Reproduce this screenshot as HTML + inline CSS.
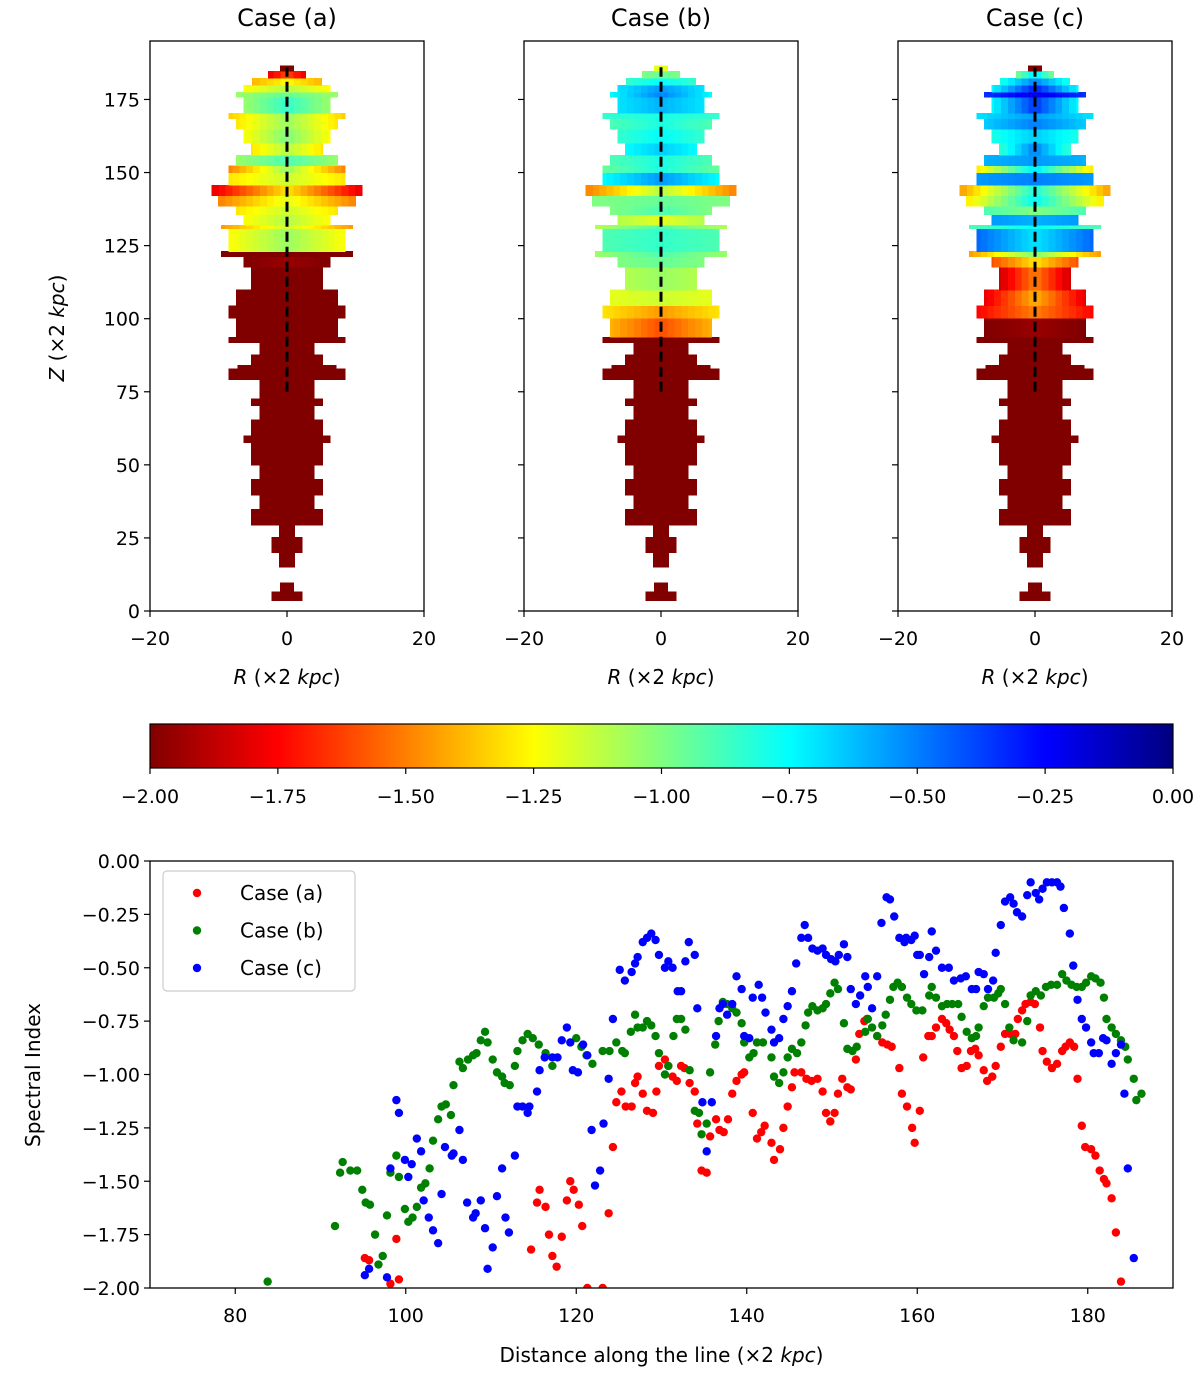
<!DOCTYPE html>
<html><head><meta charset="utf-8"><title>Spectral index jets</title>
<style>
html,body{margin:0;padding:0;background:#fff;}
svg{display:block;font-family:"DejaVu Sans","Liberation Sans",sans-serif;}
</style></head>
<body>
<svg id="fig" xmlns="http://www.w3.org/2000/svg" width="1200" height="1376" viewBox="0 0 1200 1376">
<defs>
<linearGradient id="jetgrad" x1="0" x2="1" y1="0" y2="0">
<stop offset="0" stop-color="#800000"/><stop offset="0.125" stop-color="#ff0000"/><stop offset="0.375" stop-color="#ffff00"/><stop offset="0.5" stop-color="#80ff80"/><stop offset="0.625" stop-color="#00ffff"/><stop offset="0.875" stop-color="#0000ff"/><stop offset="1" stop-color="#000080"/>
</linearGradient>
</defs>
<g id="panels"></g>
<g id="cbar"></g>
<g id="scatter"></g>
</svg>
<script>
// ---------- jet map data ----------
const rowZ0=[3.6,6.6,15.0,19.9,25.2,29.4,34.8,39.6,45.0,49.8,57.6,60.0,65.4,70.2,72.6,79.2,82.8,84.0,87.6,91.8,93.6,100.2,104.4,109.8,117.6,121.2,123.0,130.8,132.0,135.5,138.5,142.1,145.7,149.9,152.3,155.9,160.1,164.9,168.5,170.3,175.7,177.5,179.9,182.3,184.7];
const rowZ1=[6.6,9.6,19.9,25.2,29.4,34.8,39.6,45.0,49.8,57.6,60.0,65.4,70.2,72.6,79.2,82.8,84.0,87.6,91.8,93.6,100.2,104.4,109.8,117.6,121.2,123.0,130.8,132.0,135.5,138.5,142.1,145.7,149.9,152.3,155.9,160.1,164.9,168.5,170.3,175.7,177.5,179.9,182.3,184.7,186.5];
const rowHW=[2.2,1.0,1.1,2.2,1.1,5.2,4.0,5.2,4.0,5.2,6.3,5.2,4.0,5.2,4.0,8.5,7.2,5.2,4.0,8.5,7.4,8.5,7.4,5.2,6.3,9.6,8.5,9.6,6.3,7.4,10.0,11.0,8.5,8.5,7.4,5.2,6.3,7.4,8.5,6.3,7.4,6.3,5.1,2.7,1.0];
const caseACenter=[-2,-2,-2,-2,-2,-2,-2,-2,-2,-2,-2,-2,-2,-2,-2,-2,-2,-2,-2,-2,-2,-2,-2,-2,-1.95,-2,-1.05,-1.15,-1.1,-1.15,-1.2,-1.3,-1.15,-1.05,-0.9,-1.1,-1.0,-1.05,-1.05,-0.85,-0.95,-1.1,-1.25,-1.6,-2];
const caseAEdge=[-2,-2,-2,-2,-2,-2,-2,-2,-2,-2,-2,-2,-2,-2,-2,-2,-2,-2,-2,-2,-2,-2,-2,-2,-2,-2,-1.25,-1.45,-1.25,-1.3,-1.5,-1.8,-1.3,-1.5,-1.05,-1.3,-1.25,-1.3,-1.35,-1.05,-1.05,-1.25,-1.4,-1.8,-2];
const caseBCenter=[-2,-2,-2,-2,-2,-2,-2,-2,-2,-2,-2,-2,-2,-2,-2,-2,-2,-2,-2,-2,-1.6,-1.45,-1.15,-1.05,-0.95,-0.9,-0.85,-0.9,-1.2,-0.9,-0.95,-1.1,-0.55,-0.8,-0.8,-0.65,-0.75,-0.8,-0.8,-0.6,-0.5,-0.55,-0.75,-0.95,-1.2];
const caseBEdge=[-2,-2,-2,-2,-2,-2,-2,-2,-2,-2,-2,-2,-2,-2,-2,-2,-2,-2,-2,-2,-1.4,-1.3,-1.2,-1.1,-1.0,-1.05,-0.9,-1.1,-1.1,-1.0,-1.0,-1.5,-0.75,-0.95,-0.9,-0.75,-0.85,-0.9,-0.85,-0.7,-0.75,-0.7,-0.85,-1.0,-1.2];
const caseCCenter=[-2,-2,-2,-2,-2,-2,-2,-2,-2,-2,-2,-2,-2,-2,-2,-2,-2,-2,-2,-2,-1.95,-1.5,-1.4,-1.5,-1.3,-1.0,-0.7,-0.75,-0.6,-1.0,-0.75,-0.8,-0.5,-0.7,-0.55,-0.5,-0.65,-0.5,-0.55,-0.35,-0.2,-0.3,-0.5,-0.7,-2];
const caseCEdge=[-2,-2,-2,-2,-2,-2,-2,-2,-2,-2,-2,-2,-2,-2,-2,-2,-2,-2,-2,-2,-2,-1.75,-1.8,-1.85,-1.6,-1.45,-0.45,-0.9,-0.55,-0.9,-1.3,-1.45,-0.55,-1.3,-0.6,-0.85,-0.8,-0.65,-0.7,-0.75,-0.35,-0.75,-0.8,-1.0,-2];
const panelTitles=["Case (a)","Case (b)","Case (c)"];
const zTicks=[0,25,50,75,100,125,150,175];
const rTicks=[-20,0,20];
const cbarTicks=[-2.00,-1.75,-1.50,-1.25,-1.00,-0.75,-0.50,-0.25,0.00];
// ---------- scatter data ----------
const redX=[95.2,95.7,98.2,98.9,99.2,114.7,115.4,115.7,116.4,116.8,117.2,117.7,118.3,118.9,119.3,119.7,120.3,120.7,121.3,123.1,123.8,124.3,124.7,125.3,125.8,126.5,126.9,127.2,127.8,128.3,129.0,129.4,129.7,130.4,130.8,131.3,131.8,132.3,132.7,133.3,133.9,134.2,134.7,135.3,135.7,136.4,136.8,137.3,137.8,138.3,138.8,139.4,139.7,140.7,141.2,141.7,142.1,142.9,143.2,143.9,144.3,144.8,145.3,145.6,146.4,147.0,147.6,148.3,148.9,149.3,149.8,150.3,150.7,151.2,151.8,152.2,152.8,153.2,153.8,154.1,155.3,155.9,156.5,157.0,157.9,158.2,158.8,159.4,159.7,160.3,160.7,161.3,161.7,162.2,162.9,163.4,163.8,164.3,164.7,165.2,165.8,166.3,166.8,167.2,167.8,168.2,168.8,169.2,169.8,170.3,170.9,171.5,171.8,172.3,172.7,173.3,173.8,174.4,174.7,175.2,175.8,176.4,177.0,177.4,177.9,178.4,178.8,179.3,179.7,180.4,180.9,181.4,181.9,182.2,182.8,183.3,183.9];
const redY=[-1.86,-1.87,-1.98,-1.77,-1.96,-1.82,-1.60,-1.54,-1.62,-1.75,-1.85,-1.90,-1.76,-1.59,-1.50,-1.54,-1.61,-1.71,-2.00,-2.00,-1.65,-1.34,-1.13,-1.08,-1.15,-1.15,-1.04,-1.01,-1.09,-1.17,-1.18,-1.08,-0.96,-0.93,-0.96,-1.01,-1.03,-0.96,-0.97,-1.04,-1.08,-1.23,-1.45,-1.46,-1.29,-1.21,-1.26,-1.27,-1.21,-1.09,-1.03,-1.00,-0.99,-1.18,-1.30,-1.27,-1.24,-1.32,-1.40,-1.35,-1.25,-1.15,-1.06,-0.99,-0.99,-1.02,-1.03,-1.02,-1.08,-1.18,-1.22,-1.18,-1.09,-1.02,-1.06,-1.07,-0.93,-0.81,-0.75,-0.74,-0.82,-0.85,-0.86,-0.87,-0.97,-1.09,-1.15,-1.25,-1.32,-1.17,-0.92,-0.82,-0.82,-0.78,-0.74,-0.76,-0.79,-0.82,-0.89,-0.97,-0.96,-0.89,-0.88,-0.91,-0.98,-1.03,-1.01,-0.96,-0.87,-0.81,-0.81,-0.81,-0.74,-0.70,-0.67,-0.66,-0.67,-0.78,-0.89,-0.94,-0.97,-0.95,-0.89,-0.87,-0.85,-0.87,-1.02,-1.24,-1.34,-1.35,-1.38,-1.45,-1.49,-1.51,-1.58,-1.74,-1.97];
const greenX=[83.8,91.7,92.3,92.6,93.5,94.3,94.9,95.3,95.8,96.4,96.8,97.3,97.8,98.2,98.9,99.2,99.9,100.3,100.8,101.3,101.8,102.3,102.8,103.2,103.8,104.2,104.7,105.3,105.6,106.3,106.7,107.3,107.9,108.3,108.8,109.3,109.6,110.2,110.7,111.3,111.6,112.2,112.8,113.1,113.7,114.3,114.9,115.6,116.4,117.2,120.0,120.6,121.2,121.9,123.1,123.9,124.7,125.4,125.7,126.4,126.9,127.2,127.8,128.3,128.8,129.3,129.7,130.4,130.8,131.4,131.8,132.3,132.8,133.3,133.9,134.4,134.7,135.3,135.7,136.3,136.7,137.2,137.7,138.3,138.8,139.4,139.7,140.3,140.8,141.2,141.9,142.9,143.2,143.8,144.3,144.8,145.3,145.9,146.4,146.9,147.2,147.7,148.3,148.9,149.3,149.8,150.3,150.7,151.4,151.8,152.4,152.9,153.9,154.2,154.7,155.3,155.9,156.3,156.8,157.2,157.7,158.2,158.8,159.3,159.9,160.6,161.4,161.7,162.2,162.9,163.5,164.1,164.8,165.2,165.8,166.4,166.9,167.2,167.8,168.3,169.0,169.5,169.8,170.3,170.8,171.3,172.3,172.9,173.3,173.9,174.5,175.1,175.7,176.4,177.0,177.5,178.1,178.7,179.3,179.8,180.4,180.9,181.5,181.9,182.2,182.8,183.3,183.9,184.4,184.7,185.4,185.7,186.3];
const greenY=[-1.97,-1.71,-1.46,-1.41,-1.45,-1.45,-1.54,-1.60,-1.61,-1.75,-1.89,-1.85,-1.66,-1.46,-1.38,-1.48,-1.63,-1.69,-1.67,-1.62,-1.53,-1.51,-1.44,-1.31,-1.21,-1.15,-1.14,-1.19,-1.05,-0.94,-0.97,-0.93,-0.91,-0.90,-0.84,-0.80,-0.85,-0.93,-0.99,-1.01,-1.04,-1.05,-0.96,-0.89,-0.84,-0.81,-0.83,-0.86,-0.90,-0.96,-0.83,-0.87,-0.91,-0.95,-0.89,-0.89,-0.85,-0.89,-0.90,-0.80,-0.72,-0.78,-0.78,-0.75,-0.77,-0.82,-0.90,-1.00,-0.96,-0.82,-0.74,-0.74,-0.79,-0.98,-1.17,-1.18,-1.28,-1.23,-0.99,-0.86,-0.75,-0.66,-0.67,-0.69,-0.71,-0.76,-0.85,-0.92,-0.90,-0.85,-0.85,-0.92,-1.01,-1.04,-0.99,-0.92,-0.88,-0.90,-0.85,-0.77,-0.71,-0.68,-0.70,-0.69,-0.67,-0.62,-0.57,-0.60,-0.76,-0.88,-0.89,-0.87,-0.80,-0.74,-0.78,-0.82,-0.77,-0.72,-0.65,-0.59,-0.57,-0.59,-0.64,-0.67,-0.70,-0.70,-0.63,-0.59,-0.64,-0.68,-0.67,-0.67,-0.67,-0.73,-0.80,-0.83,-0.82,-0.78,-0.68,-0.64,-0.64,-0.62,-0.60,-0.67,-0.78,-0.84,-0.85,-0.75,-0.63,-0.61,-0.63,-0.59,-0.58,-0.58,-0.53,-0.56,-0.58,-0.59,-0.59,-0.57,-0.54,-0.55,-0.57,-0.64,-0.74,-0.78,-0.81,-0.84,-0.87,-0.93,-1.02,-1.12,-1.09];
const blueX=[95.2,95.7,97.8,98.2,98.9,99.2,99.9,100.3,100.7,101.3,101.8,102.1,102.7,103.2,103.8,104.2,104.6,105.4,105.6,106.3,106.7,107.2,107.9,108.2,108.8,109.3,109.6,110.2,110.7,111.3,111.7,112.1,112.8,113.1,113.7,114.3,114.5,115.4,115.7,116.3,117.2,117.8,118.3,118.9,119.3,119.6,120.2,120.8,121.3,121.8,122.2,122.8,123.2,123.8,124.3,125.1,125.7,126.5,126.9,127.2,127.8,128.3,128.8,129.3,129.7,130.4,130.8,131.3,131.9,132.3,132.8,133.2,133.9,134.2,134.8,135.3,135.9,136.4,136.8,137.2,137.7,138.3,138.8,139.4,139.7,140.3,140.7,141.4,141.8,142.2,142.9,143.2,143.8,144.3,144.8,145.3,145.8,146.4,146.8,147.2,147.7,148.3,148.9,149.3,149.9,150.4,150.8,151.4,151.8,152.2,152.8,153.3,153.9,154.2,154.7,155.3,155.8,156.4,156.8,157.3,157.9,158.5,158.7,159.3,159.7,160.0,160.3,160.8,161.4,161.7,162.2,162.9,163.7,164.3,165.1,165.7,166.4,166.9,167.2,167.8,168.3,168.9,169.2,169.8,170.3,170.9,171.3,171.7,172.3,172.9,173.3,173.9,174.3,174.7,175.2,175.8,176.4,176.8,177.2,177.9,178.3,178.8,179.3,179.8,180.4,180.7,181.3,181.8,182.2,182.8,183.3,183.9,184.3,184.7,185.4];
const blueY=[-1.94,-1.91,-1.95,-1.44,-1.12,-1.18,-1.40,-1.48,-1.42,-1.30,-1.36,-1.59,-1.67,-1.73,-1.79,-1.56,-1.34,-1.38,-1.37,-1.26,-1.40,-1.60,-1.67,-1.65,-1.59,-1.72,-1.91,-1.81,-1.57,-1.44,-1.67,-1.74,-1.38,-1.15,-1.15,-1.18,-1.15,-1.08,-0.98,-0.92,-0.92,-0.92,-0.84,-0.78,-0.85,-0.98,-0.99,-0.86,-0.91,-1.26,-1.52,-1.45,-1.23,-1.02,-0.74,-0.51,-0.56,-0.52,-0.48,-0.45,-0.38,-0.36,-0.34,-0.37,-0.44,-0.50,-0.47,-0.50,-0.61,-0.61,-0.47,-0.38,-0.44,-0.69,-1.13,-1.36,-1.13,-0.82,-0.69,-0.67,-0.72,-0.67,-0.54,-0.60,-0.82,-0.83,-0.64,-0.58,-0.64,-0.71,-0.79,-0.85,-0.83,-0.74,-0.68,-0.61,-0.48,-0.36,-0.30,-0.36,-0.41,-0.42,-0.41,-0.44,-0.46,-0.47,-0.44,-0.39,-0.45,-0.60,-0.67,-0.63,-0.54,-0.59,-0.69,-0.54,-0.29,-0.17,-0.18,-0.26,-0.36,-0.38,-0.36,-0.37,-0.35,-0.44,-0.44,-0.53,-0.45,-0.33,-0.42,-0.50,-0.50,-0.56,-0.55,-0.54,-0.60,-0.60,-0.52,-0.53,-0.60,-0.56,-0.43,-0.30,-0.19,-0.17,-0.20,-0.24,-0.26,-0.16,-0.10,-0.15,-0.18,-0.13,-0.10,-0.10,-0.10,-0.12,-0.22,-0.34,-0.49,-0.65,-0.74,-0.78,-0.85,-0.90,-0.90,-0.83,-0.84,-0.95,-0.90,-0.86,-1.09,-1.44,-1.86];
const xTicks=[80,100,120,140,160,180];
const yTicks=[0.00,-0.25,-0.50,-0.75,-1.00,-1.25,-1.50,-1.75,-2.00];
const legendLabels=["Case (a)","Case (b)","Case (c)"];

const NS="http://www.w3.org/2000/svg";
function mk(tag,attrs,parent){const e=document.createElementNS(NS,tag);for(const k in attrs)e.setAttribute(k,attrs[k]);parent.appendChild(e);return e;}
function clip(v){return Math.max(0,Math.min(1,v));}
function jet(v){const t=clip(-v/2);const r=clip(1.5-Math.abs(4*t-3)),g=clip(1.5-Math.abs(4*t-2)),b=clip(1.5-Math.abs(4*t-1));return `rgb(${Math.round(r*255)},${Math.round(g*255)},${Math.round(b*255)})`;}

// ---------- top panels ----------
const panels=document.getElementById('panels');
const pLeft=[150,524,898],pW=274,pTop=41,pBot=611;
const zScale=z=>pBot-(z/195)*(pBot-pTop);
const centers=[caseACenter,caseBCenter,caseCCenter],edges=[caseAEdge,caseBEdge,caseCEdge];
for(let p=0;p<3;p++){
  const rScale=r=>pLeft[p]+(r+20)/40*pW;
  const g=mk('g',{},panels);
  
  
  const cells=mk('g',{'shape-rendering':'crispEdges'},g);
  
  
  for(let i=0;i<rowZ0.length;i++){
    const hw=rowHW[i],C=centers[p][i],E=edges[p][i];
    const y1=zScale(rowZ1[i]),y0=zScale(rowZ0[i]);
    for(let k=0;k<hw;k+=1){
      const k2=Math.min(k+1,hw);
      const v=C+(E-C)*((k+k2)/2/hw);
      const col=jet(v);
      for(const s of [1,-1]){
        const xa=rScale(s*k),xb=rScale(s*k2);
        const rc=mk('rect',{x:Math.min(xa,xb)-0.3,y:y1-0.3,width:Math.abs(xb-xa)+0.6,height:y0-y1+0.6,fill:col},cells);
        
        
      }
    }
  }
  const dl=mk('line',{x1:rScale(0),x2:rScale(0),y1:zScale(75),y2:zScale(186),stroke:'#000','stroke-width':3,'stroke-dasharray':'10,5'},g);
  
  
  const fr=mk('rect',{x:pLeft[p],y:pTop,width:pW,height:pBot-pTop,fill:'none',stroke:'#000','stroke-width':1.3},g);
  
  
  const tt=mk('text',{x:pLeft[p]+pW/2,y:26,'text-anchor':'middle','font-size':24},g);
  tt.textContent=panelTitles[p];
  
  
  for(const z of zTicks){
    const y=zScale(z);
    mk('line',{x1:pLeft[p]-6,x2:pLeft[p],y1:y,y2:y,stroke:'#000','stroke-width':1.2},g);
    if(p===0){const t=mk('text',{x:pLeft[p]-10,y:y+7,'text-anchor':'end','font-size':19},g);t.textContent=z;
      
      }
  }
  for(const r of rTicks){
    const x=rScale(r);
    mk('line',{x1:x,x2:x,y1:pBot,y2:pBot+6,stroke:'#000','stroke-width':1.2},g);
    const t=mk('text',{x:x,y:pBot+34,'text-anchor':'middle','font-size':19},g);t.textContent=(r<0?'\u2212'+(-r):r);
    
    
  }
  const xl=mk('text',{x:pLeft[p]+pW/2,y:684,'text-anchor':'middle','font-size':20},g);
  xl.innerHTML='<tspan font-style="italic">R</tspan> (\u00d72 <tspan font-style="italic">kpc</tspan>)';
  
  
}
const zl=mk('text',{x:0,y:0,'text-anchor':'middle','font-size':20,transform:'translate(64,328) rotate(-90)'},panels);
zl.innerHTML='<tspan font-style="italic">Z</tspan> (\u00d72 <tspan font-style="italic">kpc</tspan>)';



// ---------- colorbar ----------
const cb=document.getElementById('cbar');
const cbL=150,cbR=1173,cbT=724,cbB=768;
const cbr=mk('rect',{x:cbL,y:cbT,width:cbR-cbL,height:cbB-cbT,fill:'url(#jetgrad)',stroke:'#000','stroke-width':1.2},cb);


for(const v of cbarTicks){
  const x=cbL+(v+2)/2*(cbR-cbL);
  mk('line',{x1:x,x2:x,y1:cbB,y2:cbB+6,stroke:'#000','stroke-width':1.2},cb);
  const t=mk('text',{x:x,y:cbB+35,'text-anchor':'middle','font-size':19},cb);
  t.textContent=(v<0?'\u2212':'')+Math.abs(v).toFixed(2);
  
  
}

// ---------- scatter ----------
const sc=document.getElementById('scatter');
const sL=150,sR=1173,sT=861,sB=1288;
const xS=x=>sL+(x-70)/(190-70)*(sR-sL);
const yS=y=>sT+(-y)/2*(sB-sT);
const cp=mk('clipPath',{id:'sclip'},sc);
mk('rect',{x:sL,y:sT,width:sR-sL,height:sB-sT},cp);
const series=[[redX,redY,'#ff0000'],[greenX,greenY,'#008000'],[blueX,blueY,'#0000ff']];
series.forEach((s,si)=>{
  const g=mk('g',{'clip-path':'url(#sclip)'},sc);
  
  
  for(let i=0;i<s[0].length;i++){
    const c=mk('circle',{cx:xS(s[0][i]),cy:yS(s[1][i]),r:4.2,fill:s[2]},g);
    
    
  }
});
const sf=mk('rect',{x:sL,y:sT,width:sR-sL,height:sB-sT,fill:'none',stroke:'#000','stroke-width':1.3},sc);


for(const v of xTicks){
  const x=xS(v);
  mk('line',{x1:x,x2:x,y1:sB,y2:sB+6,stroke:'#000','stroke-width':1.2},sc);
  const t=mk('text',{x:x,y:sB+34,'text-anchor':'middle','font-size':19},sc);t.textContent=v;
  
  
}
for(const v of yTicks){
  const y=yS(v);
  mk('line',{x1:sL-6,x2:sL,y1:y,y2:y,stroke:'#000','stroke-width':1.2},sc);
  const t=mk('text',{x:sL-10,y:y+7,'text-anchor':'end','font-size':19},sc);
  t.textContent=(v<0?'\u2212':'')+Math.abs(v).toFixed(2);
  
  
}
const sxl=mk('text',{x:(sL+sR)/2,y:1362,'text-anchor':'middle','font-size':20},sc);
sxl.innerHTML='Distance along the line (\u00d72 <tspan font-style="italic">kpc</tspan>)';


const syl=mk('text',{x:0,y:0,'text-anchor':'middle','font-size':20,transform:'translate(40,1075) rotate(-90)'},sc);
syl.textContent='Spectral Index';


// legend
const lg=mk('g',{},sc);


mk('rect',{x:163,y:871,width:192,height:120,rx:4,fill:'#fff','fill-opacity':0.85,stroke:'#ccc','stroke-width':1.2},lg);
legendLabels.forEach((lab,i)=>{
  const y=893+i*37.5;
  const e=mk('g',{},lg);
  
  
  mk('circle',{cx:197,cy:y,r:4.2,fill:series[i][2]},e);
  const t=mk('text',{x:240,y:y+7,'font-size':20},e);t.textContent=lab;
});
</script>
</body></html>
